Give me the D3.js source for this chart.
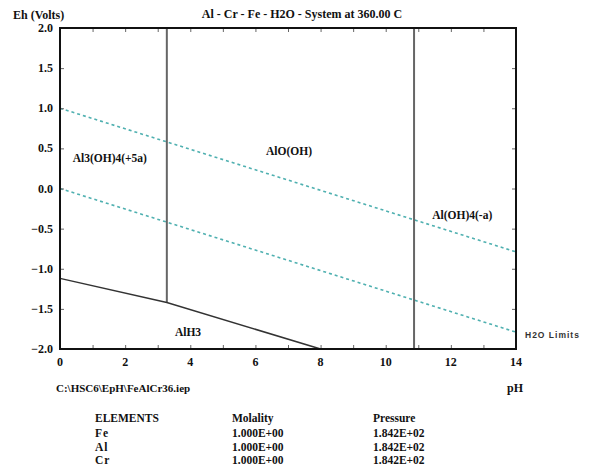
<!DOCTYPE html>
<html><head><meta charset="utf-8">
<script src="https://cdn.jsdelivr.net/npm/d3@7"></script>
<style>
body{margin:0;background:#fff;}
</style></head>
<body><svg id="c" width="593" height="472"></svg>
<script>
const pHTicks = [0, 2, 4, 6, 8, 10, 12, 14];
const pHMinorTicks = [0,1,2,3,4,5,6,7,8,9,10,11,12,13,14];
const ehTicks = [2.0, 1.5, 1.0, 0.5, 0.0, -0.5, -1.0, -1.5, -2.0];
const boundaryPH = [0, 3.28, 8.0];
const boundaryEh = [-1.12, -1.42, -2.0];
const verticalPH = [3.28, 10.87];
const verticalTop = [2.0, 2.0];
const verticalBottom = [-1.42, -2.0];
const waterUpperPH = [0, 14];
const waterUpperEh = [1.0, -0.79];
const waterLowerPH = [0, 14];
const waterLowerEh = [0.0, -1.79];
const regionNames = ["Al3(OH)4(+5a)", "AlO(OH)", "Al(OH)4(-a)", "AlH3"];
const regionPH = [1.53, 7.03, 12.35, 3.93];
const regionEh = [0.38, 0.47, -0.33, -1.79];
const elements = ["Fe", "Al", "Cr"];
const molality = ["1.000E+00", "1.000E+00", "1.000E+00"];
const pressure = ["1.842E+02", "1.842E+02", "1.842E+02"];

const SERIF = "'Liberation Serif','Times New Roman','DejaVu Serif',serif";
const svg = d3.select("#c");
function txt(xp, yp, s, size, anchor) {
  return svg.append("text").attr("x", xp).attr("y", yp)
    .attr("text-anchor", anchor || "start")
    .style("font-family", SERIF).style("font-weight", "bold")
    .style("font-size", (size || 11) + "px").style("fill", "#111").text(s);
}
const x = d3.scaleLinear().domain([0, 14]).range([60, 516]);
const y = d3.scaleLinear().domain([-2, 2]).range([349, 28]);

// water limits
const line = d3.line().x(d => x(d[0])).y(d => y(d[1]));
[[waterUpperPH, waterUpperEh], [waterLowerPH, waterLowerEh]].forEach(([p, e]) => {
  svg.append("path").attr("d", line(p.map((v, i) => [v, e[i]])))
    .attr("fill", "none").attr("stroke", "#4fb0b0").attr("stroke-width", 1.6)
    .attr("stroke-dasharray", "3,3");
});

// vertical boundaries
verticalPH.forEach((p, i) => {
  svg.append("line").attr("x1", x(p)).attr("x2", x(p))
    .attr("y1", y(verticalTop[i])).attr("y2", y(verticalBottom[i]))
    .attr("stroke", "#666").attr("stroke-width", 2);
});

// boundary line
svg.append("path").attr("d", line(boundaryPH.map((v, i) => [v, boundaryEh[i]])))
  .attr("fill", "none").attr("stroke", "#333").attr("stroke-width", 1.5);

// axes (inner ticks)
const gB = svg.append("g").attr("transform", `translate(0,${y(-2)})`)
  .call(d3.axisTop(x).tickValues(pHMinorTicks).tickSize(4).tickFormat(""));
const gT = svg.append("g").attr("transform", `translate(0,${y(2)})`)
  .call(d3.axisBottom(x).tickValues(pHMinorTicks).tickSize(4).tickFormat(""));
const gL = svg.append("g").attr("transform", `translate(${x(0)},0)`)
  .call(d3.axisRight(y).tickValues(ehTicks).tickSize(4).tickFormat(""));
const gR = svg.append("g").attr("transform", `translate(${x(14)},0)`)
  .call(d3.axisLeft(y).tickValues(ehTicks).tickSize(4).tickFormat(""));
[gB, gT, gL, gR].forEach(g => {
  g.select(".domain").remove();
  g.selectAll(".tick line").attr("stroke", "#666").attr("stroke-width", 1);
});

// frame
svg.append("rect").attr("x", x(0)).attr("y", y(2))
  .attr("width", x(14) - x(0)).attr("height", y(-2) - y(2))
  .attr("fill", "none").attr("stroke", "#111").attr("stroke-width", 2);

// tick labels
pHTicks.forEach(d => txt(x(d), 366, String(d), 12, "middle"));
ehTicks.forEach(d => txt(53, y(d) + 4, d3.format(".1f")(d), 12, "end"));

// titles
txt(13, 19, "Eh (Volts)", 12);
txt(302, 18, "Al - Cr - Fe - H2O - System at 360.00 C", 12, "middle");

// region labels
regionNames.forEach((d, i) => txt(x(regionPH[i]), y(regionEh[i]) + 4, d, 11.5, "middle"));

svg.append("text").attr("x", 525).attr("y", 338)
  .style("font-family", "'Liberation Sans',Arial,sans-serif").style("font-weight", "bold")
  .style("font-size", "8.5px").attr("letter-spacing", 1).style("fill", "#333").text("H2O Limits");

txt(56, 392, "C:\\HSC6\\EpH\\FeAlCr36.iep", 11);
txt(507, 392, "pH", 12);

// table
txt(95, 422, "ELEMENTS", 11.5);
txt(232, 422, "Molality", 11.5);
txt(373, 422, "Pressure", 11.5);
elements.forEach((el, i) => {
  const yy = 437 + i * 13.5;
  txt(95, yy, el, 11.5).attr("letter-spacing", 1);
  txt(232, yy, molality[i], 11.5);
  txt(373, yy, pressure[i], 11.5);
});
</script></body></html>
